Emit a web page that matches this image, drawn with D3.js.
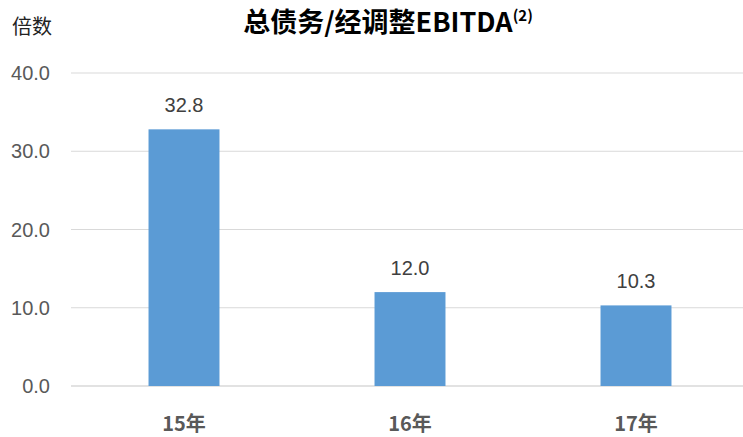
<!DOCTYPE html>
<html><head><meta charset="utf-8">
<script src="https://cdn.jsdelivr.net/npm/d3@7"></script>
<style>
body{margin:0;background:#fff;}
svg{display:block;}
</style></head>
<body>
<svg id="c" width="743" height="437"></svg>
<script>
const categories = ["15年", "16年", "17年"];
const values = [32.8, 12.0, 10.3];
const yTicks = [0, 10, 20, 30, 40];
const titleMain = "总债务/经调整EBITDA";
const titleSup = "(2)";
const unitLabel = "倍数";

const svg = d3.select("#c");
const narrow = "'Liberation Sans Narrow','Arial Narrow','Liberation Sans',Arial,sans-serif";

const x = d3.scaleBand().domain(categories).range([71, 749]).paddingInner(0.686).paddingOuter(0.343);
const y = d3.scaleLinear().domain([0, 40]).range([386, 73]);

// gridlines
svg.append("g").selectAll("line").data(yTicks).join("line")
  .attr("x1", 71).attr("x2", 743)
  .attr("y1", d => y(d)).attr("y2", d => y(d))
  .attr("stroke", "#d9d9d9").attr("stroke-width", d => d === 0 ? 1.5 : 1.2);

// y tick labels
svg.append("g").selectAll("text").data(yTicks).join("text")
  .attr("x", 50).attr("y", d => y(d))
  .attr("text-anchor", "end").attr("dominant-baseline", "central")
  .attr("font-family", narrow).attr("font-size", 20).attr("fill", "#595959")
  .text(d => d.toFixed(1));

// bars
svg.append("g").selectAll("rect").data(values).join("rect")
  .attr("x", (d, i) => x(categories[i])).attr("width", x.bandwidth())
  .attr("y", d => y(d)).attr("height", d => y(0) - y(d))
  .attr("fill", "#5b9bd5");

// value labels
svg.append("g").selectAll("text").data(values).join("text")
  .attr("x", (d, i) => x(categories[i]) + x.bandwidth() / 2)
  .attr("y", d => y(d) - 24)
  .attr("text-anchor", "middle").attr("dominant-baseline", "central")
  .attr("font-family", narrow).attr("font-size", 20).attr("fill", "#404040")
  .text(d => d.toFixed(1));

// x labels
svg.append("g").selectAll("text").data(categories).join("text")
  .attr("x", d => x(d) + x.bandwidth() / 2).attr("y", 431)
  .attr("text-anchor", "middle")
  .attr("font-family", "'Liberation Sans Narrow','Noto Sans CJK SC',sans-serif")
  .attr("font-weight", "bold").attr("font-size", 20).attr("fill", "#595959")
  .text(d => d);

// title
const t = svg.append("text").attr("x", 388).attr("y", 32)
  .attr("text-anchor", "middle")
  .attr("font-family", "'Liberation Sans Narrow','Noto Sans CJK SC',sans-serif")
  .attr("font-weight", "bold").attr("font-size", 27).attr("fill", "#000");
t.append("tspan").text(titleMain);
t.append("tspan").attr("font-size", 15).attr("dy", -11).text(titleSup);

// unit label
svg.append("text").attr("x", 12).attr("y", 34)
  .attr("font-family", "'Noto Sans CJK SC',sans-serif").attr("font-size", 20).attr("fill", "#222")
  .text(unitLabel);
</script>
</body></html>
